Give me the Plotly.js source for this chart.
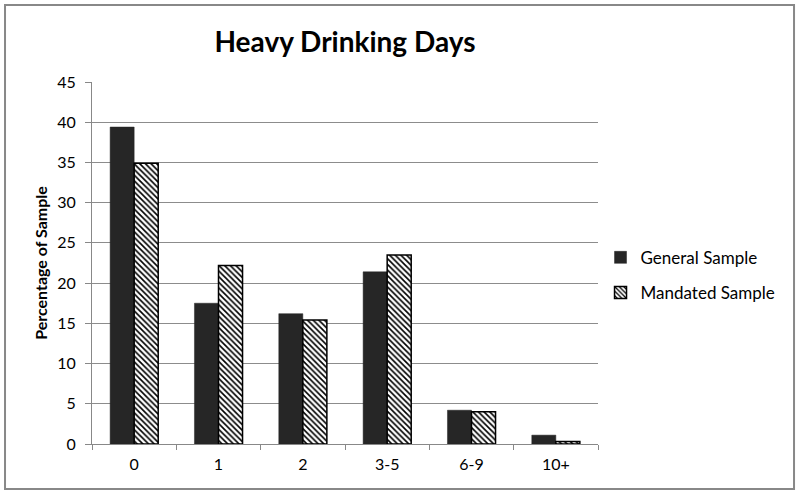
<!DOCTYPE html>
<html>
<head>
<meta charset="utf-8">
<script src="https://cdn.plot.ly/plotly-3.0.1.min.js"></script>
<style>
  html, body { margin: 0; padding: 0; background: #fff; }
  #chart { width: 800px; height: 497px; }
</style>
</head>
<body>
<div id="chart"></div>
<script>
const categories = ['0', '1', '2', '3-5', '6-9', '10+'];
const generalSample = [39.4, 17.5, 16.2, 21.4, 4.2, 1.1];
const mandatedSample = [34.9, 22.2, 15.4, 23.5, 4.0, 0.3];

const font = 'Lato, "Open Sans", sans-serif';

const data = [
    {
        type: 'bar',
        name: 'General Sample',
        legendgroup: 'g1',
        x: categories,
        y: generalSample,
        marker: { color: '#262626', line: { color: '#262626', width: 0.5 } }
    },
    {
        type: 'bar',
        name: 'Mandated Sample',
        legendgroup: 'g2',
        x: categories,
        y: mandatedSample,
        marker: {
            color: '#ffffff',
            line: { color: '#000000', width: 1.5 },
            pattern: { shape: '\\', fgcolor: '#000000', bgcolor: '#ffffff', size: 4, solidity: 0.4 }
        }
    }
];

const layout = {
    width: 800,
    height: 497,
    margin: { l: 92, r: 202, t: 82, b: 53 },
    paper_bgcolor: '#ffffff',
    plot_bgcolor: '#ffffff',
    font: { family: font, color: '#000000', size: 16 },
    title: {
        text: '<b>Heavy Drinking Days</b>',
        font: { family: font, size: 28, color: '#000' },
        x: 0.5, xanchor: 'center', xref: 'paper',
        y: 0.915, yanchor: 'middle'
    },
    barmode: 'group',
    bargap: 0.43,
    bargroupgap: 0,
    xaxis: {
        type: 'category',
        showline: true,
        linecolor: '#888',
        linewidth: 1,
        ticks: 'outside',
        tickson: 'boundaries',
        ticklen: 5,
        tickcolor: '#888',
        ticklabelstandoff: 6,
        showgrid: false,
        tickfont: { size: 16 },
        fixedrange: true
    },
    yaxis: {
        range: [0, 45],
        dtick: 5,
        showline: true,
        linecolor: '#888',
        linewidth: 1,
        ticks: 'outside',
        ticklen: 6,
        tickcolor: '#888',
        ticklabelstandoff: 6,
        showgrid: true,
        gridcolor: '#8c8c8c',
        gridwidth: 1,
        zeroline: false,
        tickfont: { size: 16 },
        title: { text: '<b>Percentage of Sample</b>', font: { size: 16 }, standoff: 5 },
        fixedrange: true
    },
    legend: {
        x: 1.005, xanchor: 'left',
        y: 0.466, yanchor: 'middle',
        font: { size: 17 },
        tracegroupgap: 10,
        itemwidth: 30,
        bgcolor: 'rgba(0,0,0,0)'
    },
    shapes: [{
        type: 'rect', xref: 'paper', yref: 'paper',
        x0: -0.1719, x1: 1.3874, y0: -0.1243, y1: 1.2127,
        line: { color: '#888', width: 2 },
        layer: 'below'
    }]
};

Plotly.newPlot('chart', data, layout, { displayModeBar: false, staticPlot: true });
</script>
</body>
</html>
